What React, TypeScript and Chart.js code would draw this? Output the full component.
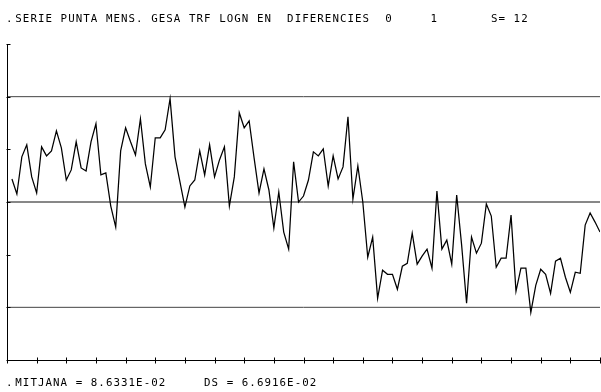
import { useEffect, useRef } from 'react';
import { Chart, registerables } from 'chart.js';

Chart.register(...registerables);

// Statistics printed on the plot
const MEAN = 0.086331;
const DS = 0.066916;

// Monthly series (seasonal differences), one array per year
const YEAR_1 = [0.1156, 0.0965, 0.1437, 0.159, 0.1182, 0.0978, 0.1564, 0.1449, 0.1513, 0.1768, 0.1551, 0.1143];
const YEAR_2 = [0.1271, 0.1628, 0.1296, 0.1258, 0.1628, 0.1857, 0.1207, 0.1233, 0.0812, 0.0544, 0.1513, 0.1806];
const YEAR_3 = [0.1628, 0.1462, 0.1921, 0.1347, 0.1054, 0.1679, 0.1679, 0.1781, 0.2176, 0.1437, 0.1118, 0.0799];
const YEAR_4 = [0.1067, 0.1143, 0.1513, 0.1207, 0.159, 0.1182, 0.1398, 0.1564, 0.0812, 0.1182, 0.1997, 0.1806];
const YEAR_5 = [0.1895, 0.1424, 0.0978, 0.1284, 0.1016, 0.0532, 0.099, 0.0481, 0.0264, 0.1373, 0.0863, 0.0939];
const YEAR_6 = [0.1143, 0.15, 0.1449, 0.1539, 0.1067, 0.1449, 0.1156, 0.1309, 0.1946, 0.0901, 0.1322, 0.0863];
const YEAR_7 = [0.0162, 0.0417, -0.0361, -0.0004, -0.0055, -0.0055, -0.0246, 0.0047, 0.0085, 0.0468, 0.0073, 0.0175];
const YEAR_8 = [0.0264, 0.0022, 0.1003, 0.0264, 0.0379, 0.0073, 0.0952, 0.0315, -0.0424, 0.0417, 0.0213, 0.034];
const YEAR_9 = [0.0838, 0.0685, 0.0035, 0.0149, 0.0149, 0.0697, -0.0271, 0.0022, 0.0022, -0.0539, -0.0195, 0.0009];
const YEAR_10 = [-0.0055, -0.0297, 0.0111, 0.0149, -0.0093, -0.0284, -0.0029, -0.0042, 0.057, 0.0723, 0.0608, 0.0481];

const SERIES = [
  ...YEAR_1, ...YEAR_2, ...YEAR_3, ...YEAR_4, ...YEAR_5,
  ...YEAR_6, ...YEAR_7, ...YEAR_8, ...YEAR_9, ...YEAR_10,
];
const PERIODS = SERIES.map((_, i) => i + 1);

const X_MIN = 0;
const X_MAX = 120;
const X_TICKS = [0, 6, 12, 18, 24, 30, 36, 42, 48, 54, 60, 66, 72, 78, 84, 90, 96, 102, 108, 114, 120];
const SIGMA_TICKS = [-3, -2, -1, 0, 1, 2, 3];
const BAND_SIGMAS = [2, 0, -2];

const TITLE = '. SERIE PUNTA MENS. GESA TRF LOGN EN  DIFERENCIES  0     1       S= 12';
const FOOTER = '. MITJANA = 8.6331E-02     DS = 6.6916E-02';

const FONT = '10.8px "DejaVu Sans Mono"';
const PITCH = 7.55;

function drawMono(ctx: CanvasRenderingContext2D, text: string, cell0: number, baseline: number) {
  for (let i = 0; i < text.length; i++) {
    const ch = text[i];
    if (ch === ' ') continue;
    if (i === 0 && ch === '.') {
      ctx.fillText(ch, 6, baseline);
      continue;
    }
    ctx.fillText(ch, cell0 + i * PITCH, baseline);
  }
}

const framePlugin = {
  id: 'frame',
  afterDatasetsDraw(chart: any) {
    const { ctx, chartArea, scales } = chart;
    const xs = scales.x;
    const ys = scales.y;
    ctx.save();
    ctx.strokeStyle = '#000';
    ctx.lineWidth = 1;
    const ax = Math.round(chartArea.left) + 0.5;
    const ay = Math.round(chartArea.bottom) + 0.5;
    ctx.beginPath();
    ctx.moveTo(ax, chartArea.top);
    ctx.lineTo(ax, ay);
    ctx.lineTo(chartArea.right, ay);
    ctx.stroke();
    // x ticks
    ctx.beginPath();
    X_TICKS.forEach((t) => {
      const px = Math.round(xs.getPixelForValue(t)) + 0.5;
      ctx.moveTo(px, ay - 3);
      ctx.lineTo(px, ay + 3);
    });
    // y ticks (one per standard deviation)
    SIGMA_TICKS.forEach((k) => {
      const py = Math.round(ys.getPixelForValue(MEAN + k * DS)) + 0.5;
      ctx.moveTo(ax - 1, py);
      ctx.lineTo(ax + 3, py);
    });
    ctx.stroke();

    ctx.fillStyle = '#000';
    ctx.font = FONT;
    ctx.textBaseline = 'alphabetic';
    ctx.textAlign = 'left';
    drawMono(ctx, TITLE, 0.2, 22);
    drawMono(ctx, FOOTER, 0.2, 386);
    ctx.restore();
  },
};

export default function App() {
  const ref = useRef<HTMLCanvasElement | null>(null);

  useEffect(() => {
    if (!ref.current) return;
    const bandSets = BAND_SIGMAS.map((k) => ({
      data: [
        { x: X_MIN, y: MEAN + k * DS },
        { x: X_MAX, y: MEAN + k * DS },
      ],
      borderColor: k === 0 ? '#111' : '#444',
      borderWidth: 1,
      pointRadius: 0,
      tension: 0,
      fill: false,
    }));
    const chart = new Chart(ref.current, {
      type: 'line',
      data: {
        datasets: [
          {
            data: PERIODS.map((x, i) => ({ x, y: SERIES[i] })),
            borderColor: '#000',
            borderWidth: 1.25,
            pointRadius: 0,
            tension: 0,
            fill: false,
          },
          ...bandSets,
        ],
      },
      options: {
        animation: false,
        responsive: false,
        devicePixelRatio: 1,
        layout: { padding: { left: 7, right: 1, top: 44, bottom: 32 } },
        scales: {
          x: { type: 'linear', min: X_MIN, max: X_MAX, display: false },
          y: { type: 'linear', min: MEAN - 3 * DS, max: MEAN + 3 * DS, display: false },
        },
        plugins: { legend: { display: false }, tooltip: { enabled: false } },
        elements: { point: { radius: 0 } },
      },
      plugins: [framePlugin],
    });
    return () => chart.destroy();
  }, []);

  return (
    <div style={{ position: 'fixed', left: 0, top: 0, width: 601, height: 392, background: '#fff' }}>
      <canvas ref={ref} width={601} height={392} style={{ display: 'block', width: 601, height: 392 }} />
    </div>
  );
}
